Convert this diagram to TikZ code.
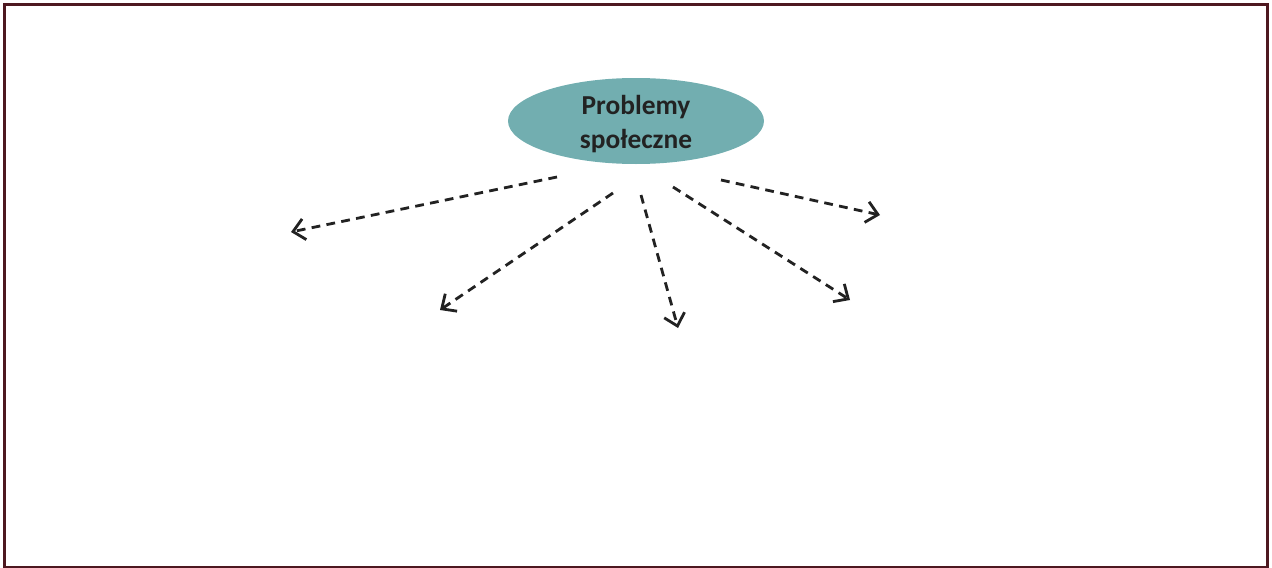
\documentclass[tikz,border=0pt]{standalone}
\usepackage{fontspec}
\setmainfont{Carlito}
\usetikzlibrary{arrows.meta,shapes.geometric}
\definecolor{ramka}{HTML}{4E1820}
\definecolor{morski}{HTML}{72AEB0}
\definecolor{tekst}{HTML}{222222}

\begin{document}
\begin{tikzpicture}[x=0.02cm,y=-0.02cm,
  kreska/.style={draw=tekst,line width=1.6pt,dash pattern=on 5pt off 3.6pt,
    -{Straight Barb[length=6.5pt,width=12pt,line width=1.6pt]}}]
\useasboundingbox (0,0) rectangle (1272,568);
\draw[ramka,line width=1.7pt] (4.5,4.5) rectangle (1267,567);
\node[ellipse,fill=morski,minimum width=256*0.02cm,minimum height=86*0.02cm,
  inner sep=0pt] (problemy) at (636,121) {};
\node[text=tekst,align=center,inner sep=0pt,
  font=\bfseries\fontsize{15.6pt}{19.6pt}\selectfont] (napis) at ([yshift=-1.8pt]problemy.center)
  {Problemy\\społeczne};
\coordinate (s1) at (557,177);
\coordinate (s2) at (613,193);
\coordinate (s3) at (641,195);
\coordinate (s4) at (673,187);
\coordinate (s5) at (721,180);
\coordinate (k1) at (291,232);
\coordinate (k2) at (440,310);
\coordinate (k3) at (678,328);
\coordinate (k4) at (850,300);
\coordinate (k5) at (880,215);
\draw[kreska] (s1) -- (k1);
\draw[kreska] (s2) -- (k2);
\draw[kreska] (s3) -- (k3);
\draw[kreska] (s4) -- (k4);
\draw[kreska] (s5) -- (k5);
\end{tikzpicture}
\end{document}
